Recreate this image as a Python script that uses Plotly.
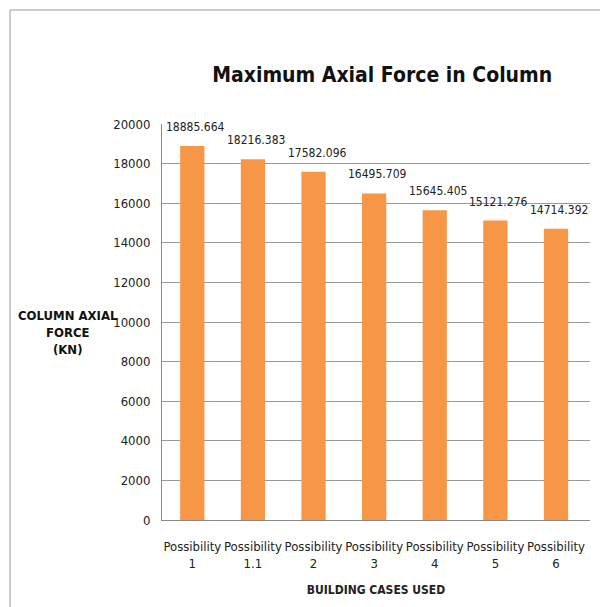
import plotly.graph_objects as go

categories = ["Possibility<br>1", "Possibility<br>1.1", "Possibility<br>2", "Possibility<br>3",
              "Possibility<br>4", "Possibility<br>5", "Possibility<br>6"]
values = [18885.664, 18216.383, 17582.096, 16495.709, 15645.405, 15121.276, 14714.392]
labels = ["18885.664", "18216.383", "17582.096", "16495.709", "15645.405", "15121.276", "14714.392"]
tick_vals = list(range(0, 20001, 2000))

FONT = "DejaVu Sans Condensed, Liberation Sans Narrow, sans-serif"

fig = go.Figure()
fig.add_trace(go.Bar(x=categories, y=values, marker=dict(color="#F79646", line=dict(width=0)),
                     width=0.4, hoverinfo="skip"))

for c, v, t in zip(categories, values, labels):
    fig.add_annotation(x=c, y=v, text=t, showarrow=False, yshift=19, xshift=3,
                       font=dict(size=12, color="#222", family=FONT))

W = 428.0
H = 396.0
fig.add_shape(type="line", xref="paper", yref="paper",
              x0=(10 - 162) / W, x1=1.1, y0=(520 - 10) / H, y1=(520 - 10) / H,
              line=dict(color="#999", width=1))
fig.add_shape(type="line", xref="paper", yref="paper",
              x0=(10 - 162) / W, x1=(10 - 162) / W, y0=(520 - 10) / H, y1=-0.3,
              line=dict(color="#999", width=1))

fig.update_layout(
    width=600, height=607,
    margin=dict(l=162, r=10, t=124, b=87),
    paper_bgcolor="white", plot_bgcolor="white",
    showlegend=False,
    bargap=0.6,
    font=dict(family=FONT, size=12, color="#222"),
    title=dict(text="<b>Maximum Axial Force in Column</b>", xref="container", x=0.637,
               xanchor="center", y=1 - 75 / 607, yanchor="middle",
               font=dict(size=21, color="#111", family=FONT)),
    xaxis=dict(showline=True, linecolor="#888", linewidth=1, ticks="", tickangle=0,
               tickfont=dict(size=13), ticklabelstandoff=14,
               title=dict(text="<b>BUILDING CASES USED</b>", font=dict(size=12), standoff=16)),
    yaxis=dict(range=[0, 20000], tickvals=tick_vals, tickformat="d", showline=True,
               linecolor="#888", linewidth=1,
               showgrid=True, gridcolor="#999", gridwidth=1, ticks="", ticklen=0,
               ticklabelstandoff=8,
               tickfont=dict(size=13), zeroline=False),
)
fig.add_annotation(xref="paper", yref="paper", x=(68 - 162) / W, y=(520 - 332) / H,
                   xanchor="center", yanchor="middle",
                   text="<b>COLUMN AXIAL<br>FORCE<br>(KN)</b>", showarrow=False,
                   font=dict(size=13, color="#111", family=FONT), align="center")

fig.write_html("out.html")
